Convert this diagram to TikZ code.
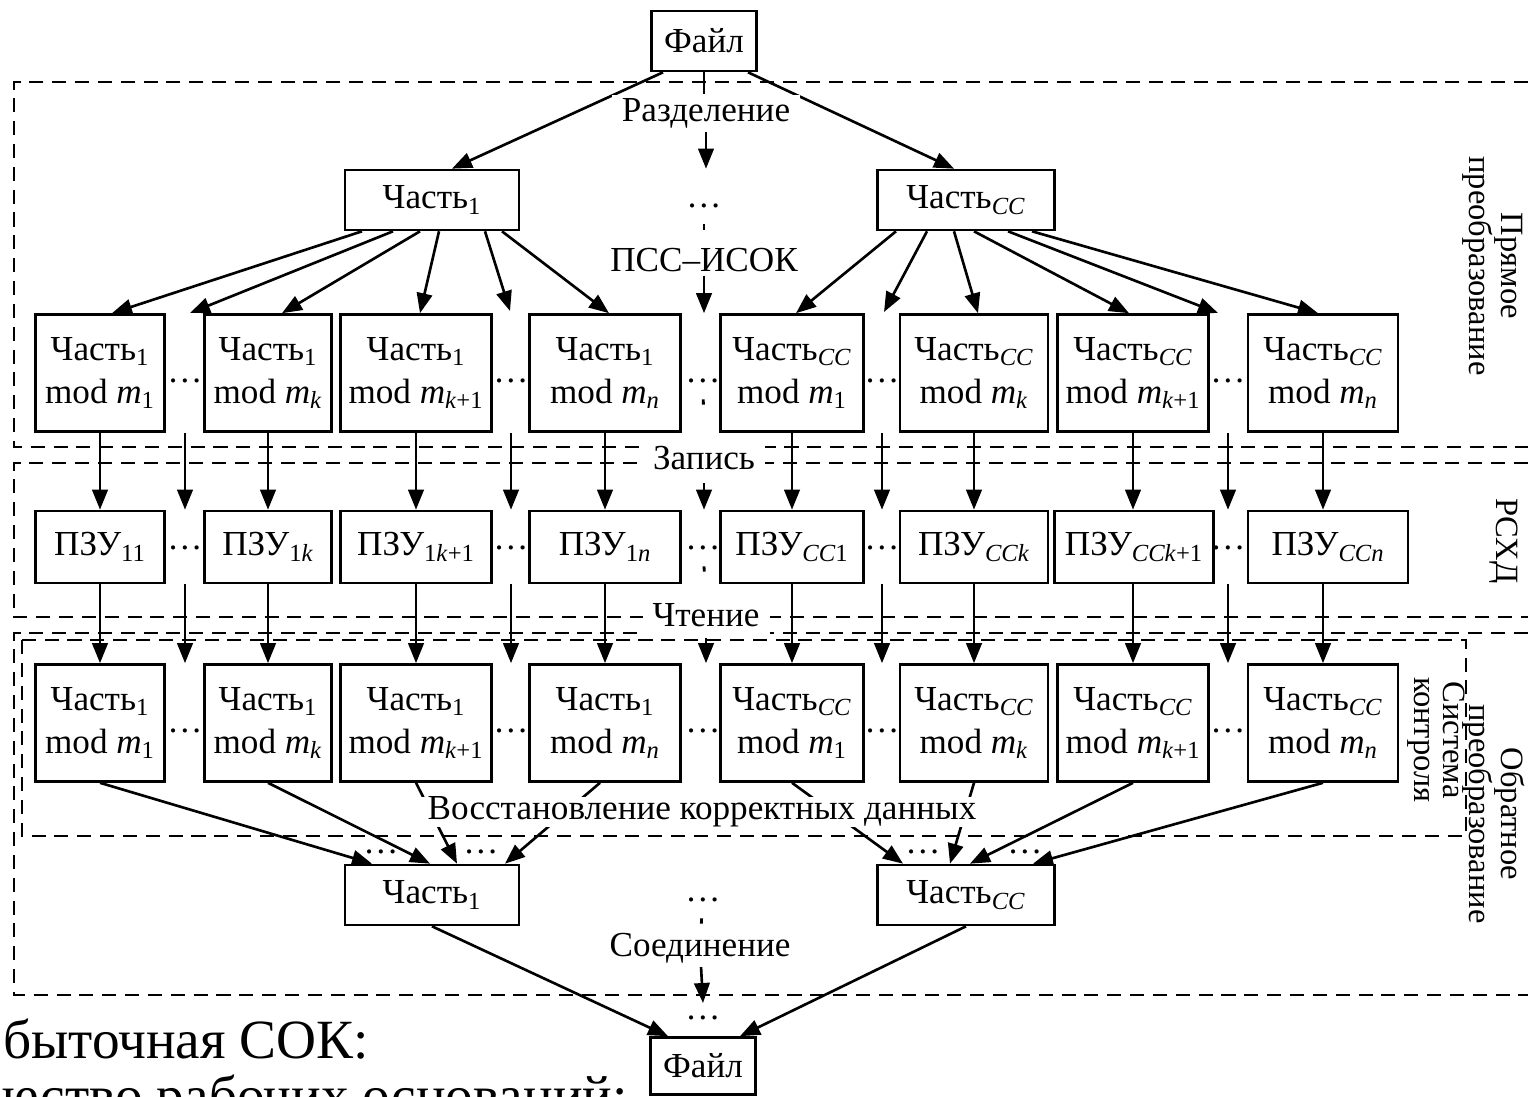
\documentclass[tikz,border=0pt]{standalone}
\usepackage{fontspec}
\setmainfont{Liberation Serif}
\usetikzlibrary{arrows.meta}
\pgfdeclarelayer{back}
\pgfsetlayers{back,main}
\newcommand\subi[1]{\textsubscript{#1}}

\begin{document}
\begin{tikzpicture}[x=0.02cm,y=-0.02cm,font=\fontsize{20}{24.5}\selectfont,
  >={Triangle[length=0.4cm,width=0.31cm]},
  box/.style={draw,line width=1.5pt,inner sep=0pt,align=center,fill=white},
  lbl/.style={fill=white,inner xsep=0.2cm,inner ysep=2pt},
  gapdots/.style={inner sep=2pt},
  zone/.style={line width=1.1pt,dash pattern=on 8pt off 5pt},
  link/.style={->,line width=1.5pt},
  stub/.style={line width=1.6pt,dash pattern=on 3pt off 100pt},
  side/.style={rotate=-90,align=center,inner sep=0pt,font=\fontsize{18.5}{16.5}\selectfont}]
\useasboundingbox (0,0) rectangle (1528,1097);

% top and bottom files, parts
\node[box,minimum width=2.1cm,minimum height=1.2cm] (f1) at (704,41) {Файл};
\node[box,minimum width=3.48cm,minimum height=1.2cm] (p1) at (432,200) {Часть\subi{1}};
\node[box,minimum width=3.54cm,minimum height=1.2cm] (p2) at (966,200) {Часть\subi{\textit{CC}}};
\node[box,minimum width=3.48cm,minimum height=1.2cm] (q1) at (432,895) {Часть\subi{1}};
\node[box,minimum width=3.54cm,minimum height=1.2cm] (q2) at (966,895) {Часть\subi{\textit{CC}}};
\node[box,minimum width=2.1cm,minimum height=1.14cm] (f2) at (703,1066) {Файл};

% residues before and after storage
\foreach \i/\x/\w/\p/\m in {1/100/2.58/1/1,2/268/2.54/1/\textit{k},3/416/3.02/1/\textit{k}+1,4/605/3.02/1/\textit{n},
  5/792/2.86/\textit{CC}/1,6/974/2.96/\textit{CC}/\textit{k},7/1133/3.02/\textit{CC}/\textit{k}+1,8/1323/3.0/\textit{CC}/\textit{n}}{
  \node[box,minimum width=\w cm,minimum height=2.34cm] (a\i) at (\x,373) {Часть\subi{\p}\\mod \textit{m}\subi{\m}};
  \node[box,minimum width=\w cm,minimum height=2.34cm] (r\i) at (\x,723) {Часть\subi{\p}\\mod \textit{m}\subi{\m}};
}
% storage
\foreach \i/\x/\w/\s in {1/100/2.58/11,2/268/2.54/1\textit{k},3/416/3.02/1\textit{k}+1,4/605/3.02/1\textit{n},
  5/792/2.86/\textit{CC}1,6/974/2.96/\textit{CCk},7/1134/3.18/\textit{CCk}+1,8/1328/3.2/\textit{CCn}}
  \node[box,minimum width=\w cm,minimum height=1.44cm] (s\i) at (\x,547) {ПЗУ\subi{\s}};

\foreach \x in {185,511,703,882,1228}{
  \node[gapdots] (g\x) at (\x,374) {\strut\ldots};
  \node[gapdots] (h\x) at (\x,541) {\strut\ldots};
  \node[gapdots] (k\x) at (\x,724) {\strut\ldots};
}
\node[gapdots] (d1) at (704,199) {\strut\ldots};
\node[gapdots,inner sep=1pt] (b1) at (381,852) {\ldots};
\node[gapdots,inner sep=1pt] (b2) at (481,852) {\ldots};
\node[gapdots,inner sep=1pt] (b3) at (923,852) {\ldots};
\node[gapdots,inner sep=1pt] (b4) at (1025,852) {\ldots};
\node[gapdots] (d5) at (703,893) {\strut\ldots};
\node[gapdots] (d6) at (703,1011) {\strut\ldots};

\node[lbl] (l1) at (706,113) {Разделение};
\node[lbl] (l2) at (704,260) {ПСС–ИСОК};
\node[lbl,minimum height=1cm] (l3) at (704,458) {Запись};
\node[lbl,minimum height=0.92cm] (l4) at (706,615) {Чтение};
\node[lbl,inner ysep=0pt] (l5) at (702,812) {Восстановление корректных данных};
\node[lbl] (l6) at (700,948) {Соединение};

\node[side] (tp) at (1493,266) {Прямое\\преобразование};
\node[side] (tr) at (1504,541) {РСХД};
\node[side] (tb) at (1494,814) {Обратное\\преобразование};
\node[side] (tc) at (1436,740) {Система\\контроля};

\node[anchor=base west,inner sep=0pt,font=\fontsize{31.5}{36}\selectfont] (n1) at (3,1058) {быточная СОК:};
\node[anchor=base east,inner sep=0pt,font=\fontsize{31.5}{36}\selectfont] (n2) at (628,1114) {ичество рабочих оснований:};

\coordinate (t1) at (190,313);
\coordinate (t2) at (510,311);
\coordinate (t3) at (884,312);
\coordinate (t4) at (1218,313);
\coordinate (e6) at (703,1003);

\begin{pgfonlayer}{back}
\draw[zone] (1528,82) -- (14,82) -- (14,447) -- (1528,447);
\draw[zone] (1528,463) -- (14,463) -- (14,617) -- (1528,617);
\draw[zone] (1528,633) -- (14,633) -- (14,995) -- (1528,995);

% split
\draw[link] ([xshift=-0.82cm]f1.south) -- ([xshift=0.4cm]p1.north);
\draw[link] ([xshift=0.88cm]f1.south) -- ([xshift=-0.24cm]p2.north);
\draw[line width=1.5pt] (f1.south) -- (f1.south |- l1.north);
\draw[link] (l1) -- (l1 |- p1.north);
\draw[stub] (d1) -- (l2);
\draw[link] (l2) -- (l2 |- a1.north);
% forward conversion
\draw[link] ([xshift=-1.4cm]p1.south) -- ([xshift=0.24cm]a1.north);
\draw[link] ([xshift=-0.78cm]p1.south) -- (t1);
\draw[link] ([xshift=-0.24cm]p1.south) -- ([xshift=0.28cm]a2.north);
\draw[link] ([xshift=0.14cm]p1.south) -- ([xshift=0.08cm]a3.north);
\draw[link] ([xshift=1.06cm]p1.south) -- (t2);
\draw[link] ([xshift=1.4cm]p1.south) -- ([xshift=0.08cm]a4.north);
\draw[link] ([xshift=-1.4cm]p2.south) -- ([xshift=0.08cm]a5.north);
\draw[link] ([xshift=-0.78cm]p2.south) -- (t3);
\draw[link] ([xshift=-0.24cm]p2.south) -- ([xshift=0.08cm]a6.north);
\draw[link] ([xshift=0.16cm]p2.south) -- ([xshift=-0.08cm]a7.north);
\draw[link] ([xshift=0.84cm]p2.south) -- (t4);
\draw[link] ([xshift=1.32cm]p2.south) -- ([xshift=-0.1cm]a8.north);
% write, read
\foreach \i in {1,...,8}{
  \draw[link] (a\i.south) -- (a\i.south |- s\i.north);
  \draw[link] (r\i.north |- s\i.south) -- (r\i.north);
}
\foreach \x in {185,511,882,1228}{
  \draw[link] (g\x |- a1.south) -- (g\x |- s1.north);
  \draw[link] (h\x |- s1.south) -- (h\x |- r1.north);
}
\draw[stub] (g703) -- (l3);
\draw[link] (l3) -- (l3 |- s1.north);
\draw[stub] (h703) -- (l4);
\draw[link] (l4) -- (l4 |- r1.north);
% recovery
\draw[link] (r1.south) -- ([xshift=-1.2cm]q1.north);
\draw[link] (r2.south) -- ([xshift=-0.04cm]q1.north);
\draw[link] (r3.south) -- ([xshift=0.5cm]q1.north);
\draw[link] ([xshift=-0.1cm]r4.south) -- ([xshift=1.46cm]q1.north);
\draw[link] (r5.south) -- ([xshift=-1.26cm]q2.north);
\draw[link] (r6.south) -- ([xshift=-0.32cm]q2.north);
\draw[link] (r7.south) -- ([xshift=0.08cm]q2.north);
\draw[link] (r8.south) -- ([xshift=1.34cm]q2.north);
% join
\draw[stub] (d5) -- (l6);
\draw[link] (l6) -- (e6);
\draw[link] (q1.south) -- ([xshift=-0.7cm]f2.north);
\draw[link] (q2.south) -- ([xshift=0.74cm]f2.north);
\end{pgfonlayer}

\draw[zone] (22,640) rectangle (1466,836);
\end{tikzpicture}
\end{document}
